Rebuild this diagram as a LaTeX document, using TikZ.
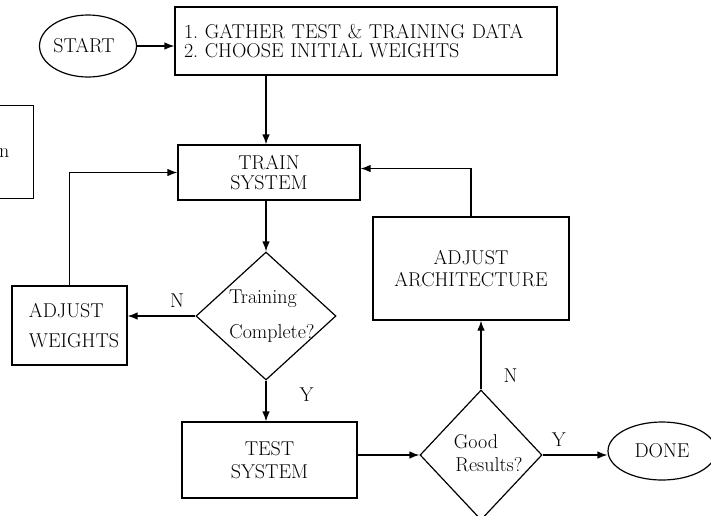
\documentclass[tikz,border=0pt]{standalone}
\usepackage{fontspec}
\usetikzlibrary{shapes.geometric,arrows.meta}
\begin{document}
\begin{tikzpicture}[x=1pt,y=-1pt,
  txt/.style={font=\fontsize{20}{19.5}\selectfont\addfontfeatures{FakeBold=1.5}},
  box/.style={draw, line width=1.2pt, rectangle, inner sep=0pt, txt, align=center},
  oval/.style={draw, line width=1.2pt, ellipse, inner sep=0pt, txt},
  decision/.style={draw, line width=1.2pt, diamond, inner sep=0pt},
  flow/.style={line width=1.2pt, -{Latex[length=10pt,width=7.5pt]}},
  lbl/.style={txt, inner sep=0pt}
]
\useasboundingbox (0,0) rectangle (711,515);

% terminals
\node[oval, minimum width=97pt, minimum height=62pt] (start) at (88,46) {\hspace*{-8pt}START};
\node[oval, minimum width=108pt, minimum height=58pt] (done) at (662,451) {DONE};

% process boxes
\node[box, minimum height=68pt, text width=364pt, inner xsep=9pt, align=left] (gather) at (366,41)
  {1.\ GATHER\ TEST \&\ TRAINING DATA\\2.\ CHOOSE INITIAL WEIGHTS};
\node[box, minimum width=182pt, minimum height=55pt] (train) at (269,172.5)
  {TRAIN\\[1pt]SYSTEM};
\node[box, minimum width=115pt, minimum height=79pt, align=left] (weights) at (69.5,325.5)
  {\hspace*{9pt}ADJUST\\[11pt]\hspace*{9pt}WEIGHTS};
\node[box, minimum width=175pt, minimum height=76pt] (test) at (269.5,460)
  {TEST\\[3pt]SYSTEM};
\node[box, minimum width=196pt, minimum height=103pt] (arch) at (471,268.5)
  {\rule{0pt}{10pt}ADJUST\\[3pt]ARCHITECTURE};

% partially visible box at the left margin
\node[draw, line width=0.9pt, minimum width=60pt, minimum height=93pt] (side) at (3,151.5) {};
\node[lbl, anchor=west] (sidetext) at (-1,153) {n};

% decisions
\node[decision, minimum width=140pt, minimum height=128pt] (trained) at (266,316) {};
\node[lbl] (trainedA) at (263,299) {Training};
\node[lbl] (trainedB) at (272,333) {Complete?};
\node[decision, minimum width=122pt, minimum height=130pt] (good) at (481,455) {};
\node[lbl] (goodA) at (476,442) {Good};
\node[lbl] (goodB) at (489,465) {Results?};

% connectors
\draw[flow] (start.east) -- (start.east -| gather.west);
\draw[flow] (trained.north |- gather.south) -- (trained.north |- train.north);
\draw[flow] (trained.north |- train.south) -- (trained.north);
\draw[flow] (trained.west) -- (trained.west -| weights.east)
  node[lbl, pos=0.27, above=8pt] (nA) {N};
\draw[flow] (weights.north) |- (train.west);
\draw[flow] (trained.south) -- (trained.south |- test.north)
  node[lbl, pos=0.35, right=33pt] (yA) {Y};
\draw[flow] (test.east |- good.west) -- (good.west);
\draw[flow] (good.east) -- (good.east -| done.west)
  node[lbl, pos=0.25, above=8pt] (yB) {Y};
\draw[flow] (good.north) -- (good.north |- arch.south)
  node[lbl, pos=0.2, right=22pt] (nB) {N};
\draw[flow] (arch.north) |- ([yshift=4pt]train.east);
\end{tikzpicture}
\end{document}
